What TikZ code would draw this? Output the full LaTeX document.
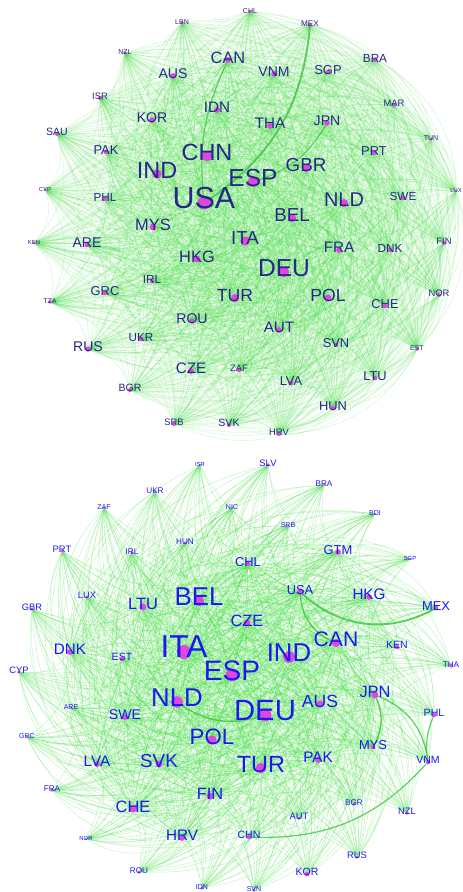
\documentclass[tikz,border=0pt]{standalone}
\usepackage{fontspec}
\setmainfont{Liberation Sans}
\usetikzlibrary{backgrounds}

\definecolor{edgegreen}{RGB}{70,225,70}
\definecolor{dotpink}{RGB}{225,70,225}
\definecolor{labnavy}{RGB}{38,40,135}
\definecolor{labblue}{RGB}{25,25,240}

\tikzset{
  ctydot/.style={circle, fill=dotpink, inner sep=0pt},
  topedge/.style={draw=edgegreen, line width=0.5pt, opacity=0.2, bend left=30},
  botedge/.style={draw=edgegreen, line width=0.35pt, opacity=0.35, bend left=30},
  strong/.style={draw=edgegreen!90!black, line width=1.6pt, opacity=0.85}
}

% name, x, y, font size, dot size, label
\newcommand{\ctry}[6]{%
  \node[ctydot, minimum size=#5pt] (#1) at (#2,#3) {};
  \node[ctylab, inner sep=0pt, yshift={0.16*#4pt}, font=\fontsize{#4}{#4}\selectfont] (#1-l) at (#2,#3) {#6};
}

\def\toplist{tusa,tchn,tind,tesp,tgbr,tnld,tbel,tita,tdeu,tmys,thkg,tfra,ttur,tpol,tkor,tidn,ttha,tjpn,tcan,taus,tvnm,tsgp,tbra,tmex,tchl,tlbn,tnzl,tisr,tsau,tpak,tphl,tcyp,tmar,ttun,tprt,tswe,tlux,tken,tare,tfin,tdnk,tirl,tgrc,ttza,tnor,tche,trou,taut,tukr,trus,tsvn,test,tcze,tzaf,tlva,tltu,tbgr,thun,tsrb,tsvk,thrv}
\def\botlist{bita,besp,bind,bdeu,bnld,bbel,btur,bcan,bpol,baus,bcze,bsvk,bltu,bjpn,bfin,bche,bhrv,blva,bpak,bdnk,bswe,bhkg,busa,bgtm,bchl,bmys,bmex,bken,best,bphl,bvnm,bchn,bkor,baut,bbgr,bnzl,brus,bsvn,bidn,brou,bnor,bfra,bgrc,bare,bcyp,bgbr,blux,bprt,birl,bzaf,bukr,bisr,bhun,bnic,bslv,bbra,bbdi,bsrb,bsgp,btha}

\begin{document}
\begin{tikzpicture}[x=0.03cm, y=-0.03cm]
\useasboundingbox (0,0) rectangle (462,892);

% trade network, first year
\begin{scope}[ctylab/.style={text=labnavy}]
\ctry{tusa}{204}{203}{26}{11}{USA}
\ctry{tchn}{207}{156}{20}{9}{CHN}
\ctry{tind}{157}{174}{20}{8}{IND}
\ctry{tesp}{253}{182}{21}{9}{ESP}
\ctry{tgbr}{306}{168}{16}{7}{GBR}
\ctry{tnld}{344}{203}{17}{7}{NLD}
\ctry{tbel}{292}{218}{16}{7}{BEL}
\ctry{tita}{245}{241}{16}{8}{ITA}
\ctry{tdeu}{284}{272}{21}{9}{DEU}
\ctry{tmys}{153}{227}{14}{6}{MYS}
\ctry{thkg}{197}{259}{14}{6}{HKG}
\ctry{tfra}{339}{250}{13}{5}{FRA}
\ctry{ttur}{235}{298}{15}{7}{TUR}
\ctry{tpol}{328}{298}{15}{6}{POL}
\ctry{tkor}{152}{120}{12}{5}{KOR}
\ctry{tidn}{217}{110}{13}{5}{IDN}
\ctry{ttha}{270}{126}{13}{5}{THA}
\ctry{tjpn}{327}{123}{12}{5}{JPN}
\ctry{tcan}{228}{60}{14}{5}{CAN}
\ctry{taus}{173}{76}{12}{5}{AUS}
\ctry{tvnm}{274}{74}{12}{5}{VNM}
\ctry{tsgp}{328}{72}{11}{4}{SGP}
\ctry{tbra}{375}{60}{10}{4}{BRA}
\ctry{tmex}{310}{25}{7}{3.5}{MEX}
\ctry{tchl}{250}{12}{6}{3}{CHL}
\ctry{tlbn}{182}{23}{6}{3}{LBN}
\ctry{tnzl}{125}{53}{6}{3}{NZL}
\ctry{tisr}{100}{98}{8}{3.5}{ISR}
\ctry{tsau}{57}{134}{9}{3.5}{SAU}
\ctry{tpak}{106}{152}{11}{4}{PAK}
\ctry{tphl}{105}{199}{10}{4}{PHL}
\ctry{tcyp}{45}{190}{5}{2.5}{CYP}
\ctry{tmar}{394}{105}{8}{3.5}{MAR}
\ctry{ttun}{431}{139}{6}{3}{TUN}
\ctry{tprt}{374}{153}{11}{4}{PRT}
\ctry{tswe}{403}{198}{10}{4}{SWE}
\ctry{tlux}{456}{191}{5}{2.5}{LUX}
\ctry{tken}{34}{243}{5}{2.5}{KEN}
\ctry{tare}{87}{245}{12}{4}{ARE}
\ctry{tfin}{444}{243}{8}{3.5}{FIN}
\ctry{tdnk}{390}{250}{10}{4}{DNK}
\ctry{tirl}{152}{281}{10}{4}{IRL}
\ctry{tgrc}{105}{293}{11}{4}{GRC}
\ctry{ttza}{50}{302}{6}{3}{TZA}
\ctry{tnor}{439}{295}{8}{3.5}{NOR}
\ctry{tche}{385}{306}{11}{4}{CHE}
\ctry{trou}{192}{321}{12}{4.5}{ROU}
\ctry{taut}{279}{330}{13}{5}{AUT}
\ctry{tukr}{141}{339}{10}{4}{UKR}
\ctry{trus}{88}{349}{12}{4.5}{RUS}
\ctry{tsvn}{336}{345}{11}{4}{SVN}
\ctry{test}{417}{349}{6}{3}{EST}
\ctry{tcze}{191}{371}{13}{5}{CZE}
\ctry{tzaf}{239}{370}{8}{3.5}{ZAF}
\ctry{tlva}{291}{383}{11}{4}{LVA}
\ctry{tltu}{375}{378}{11}{4}{LTU}
\ctry{tbgr}{130}{390}{9}{3.5}{BGR}
\ctry{thun}{333}{408}{11}{4}{HUN}
\ctry{tsrb}{174}{424}{8}{3.5}{SRB}
\ctry{tsvk}{229}{425}{9}{3.5}{SVK}
\ctry{thrv}{279}{434}{8}{3.5}{HRV}
\end{scope}

% trade network, second year
\begin{scope}[ctylab/.style={text=labblue}]
\ctry{bita}{184}{652}{27}{12}{ITA}
\ctry{besp}{232}{675}{24}{11}{ESP}
\ctry{bind}{289}{657}{22}{10}{IND}
\ctry{bdeu}{265}{715}{25}{11}{DEU}
\ctry{bnld}{177}{702}{22}{10}{NLD}
\ctry{bbel}{199}{601}{22}{9}{BEL}
\ctry{btur}{261}{768}{20}{9}{TUR}
\ctry{bcan}{336}{643}{18}{7}{CAN}
\ctry{bpol}{212}{740}{19}{8}{POL}
\ctry{baus}{320}{704}{15}{6}{AUS}
\ctry{bcze}{247}{623}{14}{6}{CZE}
\ctry{bsvk}{159}{764}{16}{6}{SVK}
\ctry{bltu}{143}{607}{14}{6}{LTU}
\ctry{bjpn}{375}{695}{14}{6}{JPN}
\ctry{bfin}{210}{796}{14}{6}{FIN}
\ctry{bche}{133}{809}{14}{6}{CHE}
\ctry{bhrv}{182}{838}{13}{5}{HRV}
\ctry{blva}{97}{764}{13}{5}{LVA}
\ctry{bpak}{318}{760}{13}{5}{PAK}
\ctry{bdnk}{70}{652}{13}{5}{DNK}
\ctry{bswe}{125}{717}{12}{5}{SWE}
\ctry{bhkg}{369}{597}{13}{5}{HKG}
\ctry{busa}{300}{592}{11}{5}{USA}
\ctry{bgtm}{338}{552}{11}{5}{GTM}
\ctry{bchl}{248}{564}{11}{4}{CHL}
\ctry{bmys}{373}{747}{11}{4}{MYS}
\ctry{bmex}{436}{608}{11}{4}{MEX}
\ctry{bken}{397}{647}{9}{4}{KEN}
\ctry{best}{122}{659}{9}{4}{EST}
\ctry{bphl}{434}{715}{9}{4}{PHL}
\ctry{bvnm}{428}{762}{9}{4}{VNM}
\ctry{bchn}{249}{837}{9}{4}{CHN}
\ctry{bkor}{307}{874}{9}{4}{KOR}
\ctry{baut}{299}{818}{8}{3}{AUT}
\ctry{bbgr}{354}{804}{7}{3}{BGR}
\ctry{bnzl}{407}{813}{8}{3}{NZL}
\ctry{brus}{357}{857}{8}{3}{RUS}
\ctry{bsvn}{254}{890}{6}{3}{SVN}
\ctry{bidn}{202}{888}{6}{3}{IDN}
\ctry{brou}{139}{872}{7}{3}{ROU}
\ctry{bnor}{86}{839}{5}{2.5}{NOR}
\ctry{bfra}{52}{790}{7}{3}{FRA}
\ctry{bgrc}{27}{737}{6}{2.5}{GRC}
\ctry{bare}{71}{708}{6}{2.5}{ARE}
\ctry{bcyp}{19}{672}{8}{3}{CYP}
\ctry{bgbr}{32}{609}{8}{3}{GBR}
\ctry{blux}{87}{597}{8}{3}{LUX}
\ctry{bprt}{62}{551}{8}{3}{PRT}
\ctry{birl}{132}{553}{7}{3}{IRL}
\ctry{bzaf}{104}{508}{6}{2.5}{ZAF}
\ctry{bukr}{155}{492}{7}{2.5}{UKR}
\ctry{bisr}{200}{465}{5}{2}{ISR}
\ctry{bhun}{185}{543}{7}{3}{HUN}
\ctry{bnic}{232}{508}{6}{2}{NIC}
\ctry{bslv}{268}{465}{8}{3}{SLV}
\ctry{bbra}{324}{485}{7}{2}{BRA}
\ctry{bbdi}{375}{514}{6}{2}{BDI}
\ctry{bsrb}{288}{526}{6}{2}{SRB}
\ctry{bsgp}{410}{559}{5}{2}{SGP}
\ctry{btha}{451}{666}{7}{3}{THA}
\end{scope}

\begin{pgfonlayer}{background}
\fill[white] (0,0) rectangle (462,892);
\foreach \a [count=\i] in \toplist {
  \foreach \b [count=\j] in \toplist {
    \ifnum\i<\j \draw[topedge] (\a) to (\b); \fi
  }
}
\foreach \a [count=\i] in \botlist {
  \foreach \b [count=\j] in \botlist {
    \ifnum\i<\j \ifnum\i<27 \draw[botedge] (\a) to (\b); \fi\fi
  }
}
% heaviest flows
\draw[strong] (tmex) to[bend left=25] (tusa);
\draw[strong, line width=1pt] (tcan) to[bend right=15] (tusa);
\draw[strong, line width=1pt] (tjpn) to[bend left=20] (tesp);
\draw[strong] (busa) to[bend right=35] (bmex);
\draw[strong, line width=1.2pt] (busa) to[bend right=30] (bcan);
\draw[strong, line width=1.2pt] (bjpn) to[bend left=25] (bmys);
\draw[strong, line width=1pt] (bjpn) to[bend left=30] (bvnm);
\draw[strong, line width=1pt] (bphl) to[bend right=15] (bvnm);
\draw[strong, line width=1pt] (bchn) to[bend right=25] (bvnm);
\draw[strong, line width=1.2pt] (bnld) to[bend right=25] (bdeu);
\end{pgfonlayer}
\end{tikzpicture}
\end{document}
